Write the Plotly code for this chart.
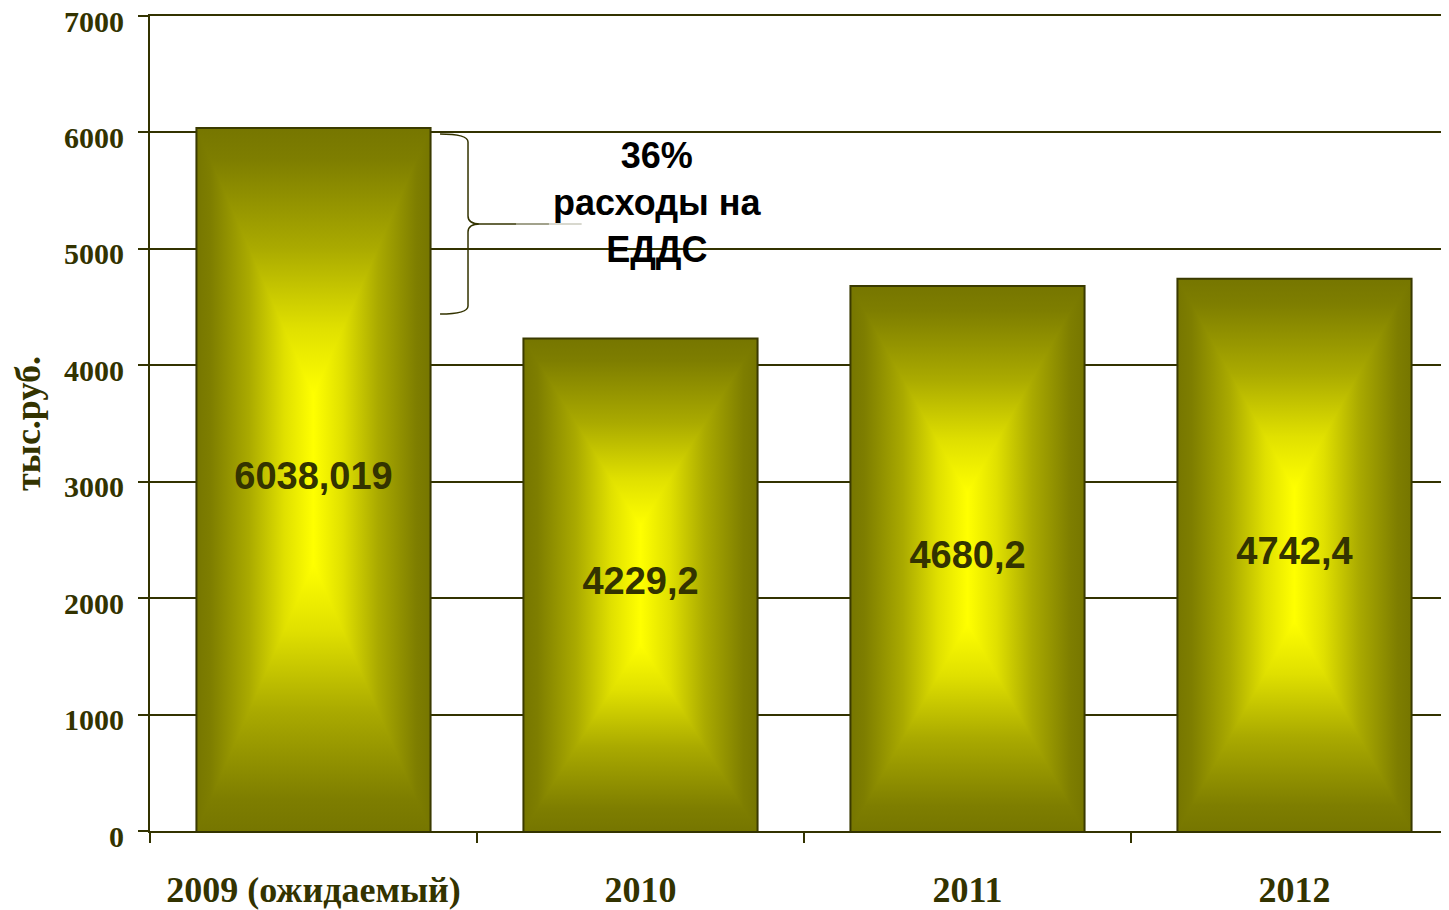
import plotly.graph_objects as go

# ---- data ----
categories = ["2009 (ожидаемый)", "2010", "2011", "2012"]
values = [6038.019, 4229.2, 4680.2, 4742.4]
value_labels = ["6038,019", "4229,2", "4680,2", "4742,4"]
y_ticks = [0, 1000, 2000, 3000, 4000, 5000, 6000, 7000]
annotation_text = "36%<br>расходы на<br>ЕДДС"
y_title = "тыс.руб."

# ---- styling ----
BAR_W = 0.716
FOCUS = 0.12  # half-length of the bright vertical focus, as a share of bar height
DARK = "#333300"
stops = [(0, "#767600"), (0.12, "#7e7e00"), (0.45, "#aaaa00"), (0.75, "#e0e000"), (1, "#ffff00")]
scale_dark_to_bright = [[p, c] for p, c in stops]
scale_bright_to_dark = [[1 - p, c] for p, c in reversed(stops)]
# symmetric: dark - bright - dark across the bar width
scale_sym = [[p / 2, c] for p, c in stops] + [[1 - p / 2, c] for p, c in reversed(stops[:-1])]

xs = list(range(len(categories)))
fig = go.Figure()

for i, v in zip(xs, values):
    x0, x1 = i - BAR_W / 2, i + BAR_W / 2
    cx, cy = i, v / 2
    ft, fb = cy + FOCUS * v, cy - FOCUS * v
    # full rectangle with horizontal gradient
    fig.add_trace(go.Scatter(x=[x0, x1, x1, x0, x0], y=[0, 0, v, v, 0], fill="toself",
                             mode="lines", line=dict(width=0),
                             fillgradient=dict(type="horizontal", start=x0, stop=x1,
                                               colorscale=scale_sym),
                             hoverinfo="skip", showlegend=False))
    # top triangle (vertical gradient)
    fig.add_trace(go.Scatter(x=[x0, x1, cx, x0], y=[v, v, ft, v], fill="toself",
                             mode="lines", line=dict(width=0),
                             fillgradient=dict(type="vertical", start=ft, stop=v,
                                               colorscale=scale_bright_to_dark),
                             hoverinfo="skip", showlegend=False))
    # bottom triangle
    fig.add_trace(go.Scatter(x=[x0, x1, cx, x0], y=[0, 0, fb, 0], fill="toself",
                             mode="lines", line=dict(width=0),
                             fillgradient=dict(type="vertical", start=0, stop=fb,
                                               colorscale=scale_dark_to_bright),
                             hoverinfo="skip", showlegend=False))

# outlines
ox, oy = [], []
for i, v in zip(xs, values):
    x0, x1 = i - BAR_W / 2, i + BAR_W / 2
    ox += [x0, x0, x1, x1, None]
    oy += [0, v, v, 0, None]
fig.add_trace(go.Scatter(x=ox, y=oy, mode="lines", line=dict(color="#3a3a00", width=2),
                         hoverinfo="skip", showlegend=False))

# value labels
fig.add_trace(go.Scatter(x=xs, y=[v / 2 for v in values], mode="text", text=value_labels,
                         textfont=dict(family="Liberation Sans, Arial", size=38,
                                       color="#333300", weight="bold"),
                         hoverinfo="skip", showlegend=False))

# brace
brace = ("M 0.387,5987 Q 0.4725,5987 0.4725,5918 L 0.4725,5282 "
         "Q 0.4725,5214 0.509,5214 Q 0.4725,5214 0.4725,5145 "
         "L 0.4725,4509 Q 0.4725,4440 0.387,4440")
fig.add_shape(type="path", path=brace, xref="x", yref="y",
              line=dict(color="#333300", width=1.5))
segs = [(0.509, 0.62, 1.0), (0.62, 0.72, 0.6), (0.72, 0.82, 0.25)]
for a, b, op in segs:
    fig.add_shape(type="line", x0=a, x1=b, y0=5214, y1=5214, xref="x", yref="y",
                  line=dict(color="#333300", width=1.5), opacity=op)

fig.add_annotation(x=1.0535, y=5394, xref="x", yref="y", text=annotation_text,
                   showarrow=False, align="center",
                   font=dict(family="Liberation Sans, Arial", size=36, color="#000000",
                             weight="bold"))

fig.update_layout(
    width=1441, height=902,
    margin=dict(l=142, r=0, t=8, b=79, autoexpand=False),
    plot_bgcolor="white", paper_bgcolor="white",
    xaxis=dict(range=[-0.5, 3.4725], tickvals=xs, ticktext=categories, ticks="",
               showgrid=False, zeroline=False, showline=True, mirror=True,
               linecolor=DARK, linewidth=2, automargin=False,
               tickfont=dict(family="Liberation Serif, Times New Roman", size=36,
                             color="#333300", weight="bold"),
               ticklabelstandoff=26, ticklabeloverflow="allow",
               minor=dict(tick0=-0.5, dtick=1, ticks="outside", ticklen=10,
                          tickwidth=1.5, tickcolor=DARK, showgrid=False)),
    yaxis=dict(range=[0, 7000], tickvals=y_ticks, ticks="outside", ticklen=10,
               tickwidth=2, tickcolor=DARK, showgrid=True, gridcolor=DARK, gridwidth=2,
               zeroline=False, showline=True, linecolor=DARK, linewidth=2,
               automargin=False,
               tickfont=dict(family="Liberation Serif, Times New Roman", size=30,
                             color="#333300", weight="bold"),
               ticklabelstandoff=8, ticklabelshift=5, ticklabeloverflow="allow",
               title=dict(text=y_title, standoff=16,
                          font=dict(family="Liberation Serif, Times New Roman", size=36,
                                    color="#333300", weight="bold"))),
)

fig.write_html("out.html")
